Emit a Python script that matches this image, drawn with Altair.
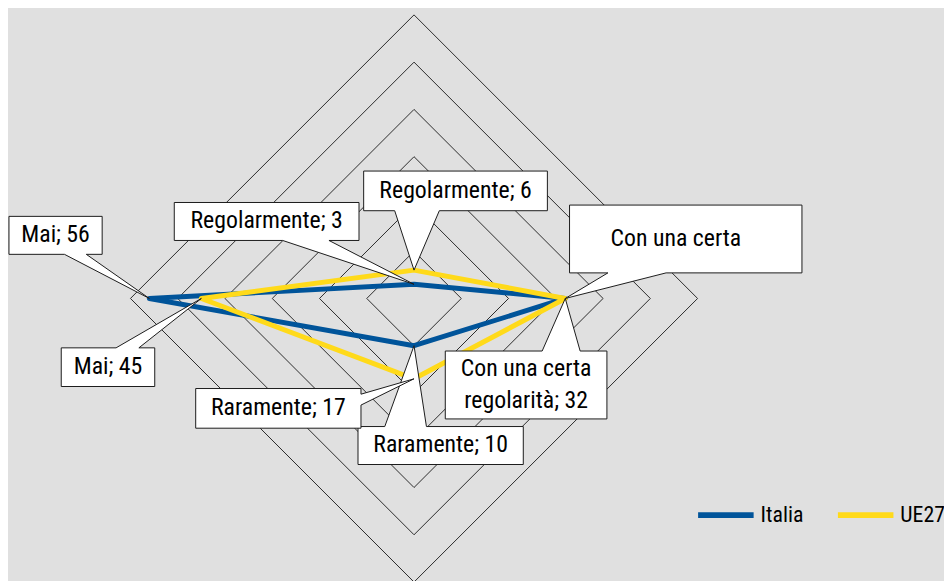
import math
import altair as alt
import pandas as pd

# ---------------- data ----------------
categories = ["Regolarmente", "Con una certa regolarità", "Raramente", "Mai"]
italia_values = [3, 32, 10, 56]
ue27_values = [6, 32, 17, 45]
series_names = ["Italia", "UE27"]
grid_levels = [10, 20, 30, 40, 50, 60]

# ---------------- style / layout ----------------
BLUE = "#00549A"
YELLOW = "#FFDA1A"
BG = "#E0E0E0"
FONT = "Liberation Sans Narrow, Roboto Condensed, DejaVu Sans Condensed, sans-serif"
LINE_HEIGHT = 32

W, H = 944, 573          # chart canvas (page minus 8px margin)
CX, CY = 409.5, 290.5    # radar centre in canvas pixels
R_MAX = 286.0            # pixel radius of the outer ring
K = R_MAX / max(grid_levels)   # pixels per unit

n = len(categories)
path_order = [3, 0, 1, 2, 3]   # start/end at "Mai"

# callout layout: offsets in pixels from the anchor point (x right, y down)
# (series, category index, box (l, t, r, b), pointer side, pointer base (a, b), text dx, lines shown)
callout_layout = [
    ("Italia", 3, (-141.6, -82.8, -47.6, -44.5), "bottom", (-85.6, -63.6), 0, 1),
    ("UE27", 3, (-141.3, 49.8, -47.0, 88.8), "top", (-86.0, -63.0), 0, 1),
    ("Italia", 0, (-241.8, -82.5, -55.5, -44.2), "bottom", (-132.5, -85.8), 0, 1),
    ("UE27", 0, (-50.8, -99.9, 134.5, -59.9), "bottom", (-19.5, 25.5), 0, 1),
    ("Italia", 2, (-56.5, 81.5, 110.2, 119.8), "top", (-29.5, 12.5), 0, 1),
    ("UE27", 2, (-220.2, 9.8, -53.5, 49.8), "right", (15.5, 26.5), 0, 1),
    ("Italia", 1, (-121.0, 53.0, 42.0, 121.5), "top", (-23.3, 15.0), 0, 2),
    ("UE27", 1, (4.3, -94.2, 238.7, -25.8), "bottom", (43.0, 101.7), -10, 1),
]

values_by_series = {"Italia": italia_values, "UE27": ue27_values}

# ---------------- tables ----------------
series_rows = []
for s in series_names:
    vals = values_by_series[s]
    for k, i in enumerate(path_order):
        series_rows.append({"series": s, "category": categories[i], "idx": i,
                            "value": vals[i], "ord": k})
series_df = pd.DataFrame(series_rows)

grid_rows = []
for lvl in grid_levels:
    for k, i in enumerate([0, 1, 2, 3, 0]):
        grid_rows.append({"level": lvl, "idx": i, "value": lvl, "ord": k})
grid_df = pd.DataFrame(grid_rows)


def polar(v, i):
    a = 2 * math.pi * i / n
    return v * math.sin(a), v * math.cos(a)


def wrap_label(cat, val):
    text = f"{cat}; {val}"
    if "certa " in text:
        head, tail = text.split("certa ", 1)
        return [head + "certa", tail]
    return [text]


poly_rows = []
text_rows = []
for ci, (s, i, box, side, base, tdx, nlines) in enumerate(callout_layout):
    val = values_by_series[s][i]
    ax, ay = polar(val, i)
    l, t, r, b = box
    a1, a2 = base
    if side == "bottom":
        pts = [(l, t), (r, t), (r, b), (a2, b), (0, 0), (a1, b), (l, b), (l, t)]
    elif side == "top":
        pts = [(l, t), (a1, t), (0, 0), (a2, t), (r, t), (r, b), (l, b), (l, t)]
    else:  # right
        pts = [(l, t), (r, t), (r, a1), (0, 0), (r, a2), (r, b), (l, b), (l, t)]
    cid = f"c{ci}"
    for k, (dx, dy) in enumerate(pts):
        poly_rows.append({"cid": cid, "ord": k, "x": ax + dx / K, "y": ay - dy / K})
    lines = wrap_label(categories[i], val)[:nlines]
    tdy = -(len(lines) - 1) * LINE_HEIGHT / 2
    text_rows.append({"cid": cid, "text": "\n".join(lines),
                      "x": ax + ((l + r) / 2 + tdx) / K,
                      "y": ay - ((t + b) / 2 + tdy) / K})
poly_df = pd.DataFrame(poly_rows)
text_df = pd.DataFrame(text_rows)

# ---------------- scales ----------------
xs = alt.Scale(domain=[-CX / K, (W - CX) / K], nice=False, zero=False)
ys = alt.Scale(domain=[-(H - CY) / K, CY / K], nice=False, zero=False)

polar_calc = dict(angle="2 * PI * datum.idx / %d" % n)

grid = (
    alt.Chart(grid_df)
    .transform_calculate(**polar_calc)
    .transform_calculate(px="datum.value * sin(datum.angle)",
                         py="datum.value * cos(datum.angle)")
    .mark_line(color="#2b2b2b", strokeWidth=1)
    .encode(
        x=alt.X("px:Q", scale=xs, axis=None),
        y=alt.Y("py:Q", scale=ys, axis=None),
        detail="level:N",
        order="ord:Q",
    )
)

lines = (
    alt.Chart(series_df)
    .transform_calculate(**polar_calc)
    .transform_calculate(px="datum.value * sin(datum.angle)",
                         py="datum.value * cos(datum.angle)")
    .mark_line(strokeWidth=5, strokeJoin="round", strokeCap="round")
    .encode(
        x=alt.X("px:Q", scale=xs, axis=None),
        y=alt.Y("py:Q", scale=ys, axis=None),
        color=alt.Color(
            "series:N",
            scale=alt.Scale(domain=series_names, range=[BLUE, YELLOW]),
            legend=alt.Legend(
                title=None, orient="none", legendX=693, legendY=478,
                direction="horizontal", symbolType="stroke", symbolSize=3136,
                symbolStrokeWidth=6, labelFont=FONT, labelFontSize=22,
                labelColor="black", labelOffset=4, columnPadding=22, padding=0,
            ),
        ),
        order="ord:Q",
    )
)

callouts = (
    alt.Chart(poly_df)
    .mark_line(fill="white", stroke="#1a1a1a", strokeWidth=1, strokeJoin="miter")
    .encode(
        x=alt.X("x:Q", scale=xs, axis=None),
        y=alt.Y("y:Q", scale=ys, axis=None),
        detail="cid:N",
        order="ord:Q",
    )
)

texts = (
    alt.Chart(text_df)
    .mark_text(font=FONT, fontSize=24, color="black", lineBreak="\n",
               lineHeight=LINE_HEIGHT, align="center", baseline="middle")
    .encode(
        x=alt.X("x:Q", scale=xs, axis=None),
        y=alt.Y("y:Q", scale=ys, axis=None),
        text="text:N",
    )
)

chart = (
    alt.layer(grid, lines, callouts, texts)
    .properties(width=W, height=H, background=BG, padding=0,
                autosize=alt.AutoSizeParams(type="none"))
    .configure_view(strokeWidth=0)
)

chart.save("out.html", embed_options={"renderer": "svg", "actions": False})
